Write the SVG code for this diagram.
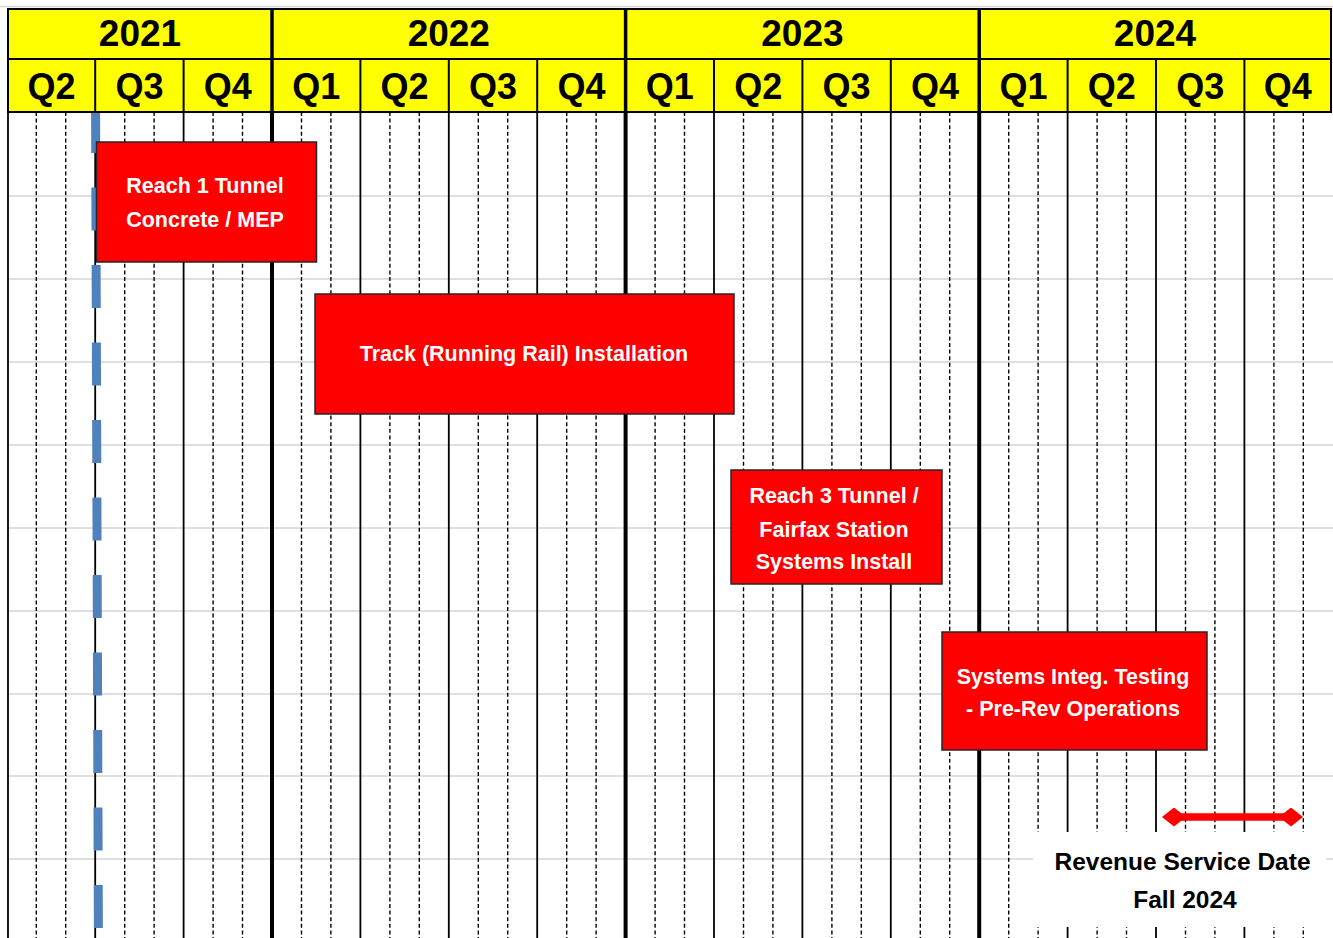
<svg xmlns="http://www.w3.org/2000/svg" width="1333" height="938" viewBox="0 0 1333 938">
<style>
.month{stroke:#000;stroke-width:1.4;stroke-dasharray:4 2.6;fill:none}
.qline{stroke:#000;stroke-width:1.8;fill:none}
.yline{stroke:#000;stroke-width:4;fill:none}
.hline{stroke:#d4d4d4;stroke-width:1.5;fill:none}
.hdr{font-family:"Liberation Sans",Arial,sans-serif;font-weight:bold;fill:#000;text-anchor:middle}
.yr{font-size:37px}
.qt{font-size:36px}
.box{fill:#ff0000;stroke:#262626;stroke-width:1.5}
.btxt{font-family:"Liberation Sans",Arial,sans-serif;font-weight:bold;font-size:21.5px;fill:#fff;text-anchor:middle}
.rtxt{font-family:"Liberation Sans",Arial,sans-serif;font-weight:bold;font-size:24.5px;fill:#000;text-anchor:middle}
</style>
<defs>
<marker id="diam" viewBox="0 0 24 19" refX="16" refY="9.5" markerWidth="24" markerHeight="19" markerUnits="userSpaceOnUse" orient="auto-start-reverse">
<path d="M0,9.5 L12,0 L24,9.5 L12,19 Z" fill="#ff0000"/>
</marker>
</defs>
<rect x="0" y="0" width="1333" height="938" fill="#fff"/>
<line x1="0" y1="6.5" x2="1333" y2="6.5" class="hline"/>
<g id="grid">
<g id="hlines">
<line x1="8" y1="196" x2="1333" y2="196" class="hline"/>
<line x1="8" y1="279" x2="1333" y2="279" class="hline"/>
<line x1="8" y1="362" x2="1333" y2="362" class="hline"/>
<line x1="8" y1="445" x2="1333" y2="445" class="hline"/>
<line x1="8" y1="528" x2="1333" y2="528" class="hline"/>
<line x1="8" y1="611" x2="1333" y2="611" class="hline"/>
<line x1="8" y1="694" x2="1333" y2="694" class="hline"/>
<line x1="8" y1="776" x2="1333" y2="776" class="hline"/>
<line x1="8" y1="859" x2="1333" y2="859" class="hline"/>
</g>
<g id="months">
<line x1="36.3" y1="112" x2="36.3" y2="938" class="month"/>
<line x1="65.7" y1="112" x2="65.7" y2="938" class="month"/>
<line x1="124.7" y1="112" x2="124.7" y2="938" class="month"/>
<line x1="154.1" y1="112" x2="154.1" y2="938" class="month"/>
<line x1="213.1" y1="112" x2="213.1" y2="938" class="month"/>
<line x1="242.5" y1="112" x2="242.5" y2="938" class="month"/>
<line x1="301.5" y1="112" x2="301.5" y2="938" class="month"/>
<line x1="330.9" y1="112" x2="330.9" y2="938" class="month"/>
<line x1="389.9" y1="112" x2="389.9" y2="938" class="month"/>
<line x1="419.3" y1="112" x2="419.3" y2="938" class="month"/>
<line x1="478.3" y1="112" x2="478.3" y2="938" class="month"/>
<line x1="507.7" y1="112" x2="507.7" y2="938" class="month"/>
<line x1="566.7" y1="112" x2="566.7" y2="938" class="month"/>
<line x1="596.1" y1="112" x2="596.1" y2="938" class="month"/>
<line x1="655.1" y1="112" x2="655.1" y2="938" class="month"/>
<line x1="684.5" y1="112" x2="684.5" y2="938" class="month"/>
<line x1="743.5" y1="112" x2="743.5" y2="938" class="month"/>
<line x1="772.9" y1="112" x2="772.9" y2="938" class="month"/>
<line x1="831.9" y1="112" x2="831.9" y2="938" class="month"/>
<line x1="861.3" y1="112" x2="861.3" y2="938" class="month"/>
<line x1="920.3" y1="112" x2="920.3" y2="938" class="month"/>
<line x1="949.7" y1="112" x2="949.7" y2="938" class="month"/>
<line x1="1008.7" y1="112" x2="1008.7" y2="938" class="month"/>
<line x1="1038.1" y1="112" x2="1038.1" y2="938" class="month"/>
<line x1="1097.1" y1="112" x2="1097.1" y2="938" class="month"/>
<line x1="1126.5" y1="112" x2="1126.5" y2="938" class="month"/>
<line x1="1185.5" y1="112" x2="1185.5" y2="938" class="month"/>
<line x1="1214.9" y1="112" x2="1214.9" y2="938" class="month"/>
<line x1="1273.9" y1="112" x2="1273.9" y2="938" class="month"/>
<line x1="1303.3" y1="112" x2="1303.3" y2="938" class="month"/>
</g>
<g id="quarters">
<line x1="8" y1="112" x2="8" y2="938" class="qline"/>
<line x1="95.2" y1="112" x2="95.2" y2="938" class="qline"/>
<line x1="183.6" y1="112" x2="183.6" y2="938" class="qline"/>
<line x1="360.4" y1="112" x2="360.4" y2="938" class="qline"/>
<line x1="448.8" y1="112" x2="448.8" y2="938" class="qline"/>
<line x1="537.2" y1="112" x2="537.2" y2="938" class="qline"/>
<line x1="714" y1="112" x2="714" y2="938" class="qline"/>
<line x1="802.4" y1="112" x2="802.4" y2="938" class="qline"/>
<line x1="890.8" y1="112" x2="890.8" y2="938" class="qline"/>
<line x1="1067.6" y1="112" x2="1067.6" y2="938" class="qline"/>
<line x1="1156" y1="112" x2="1156" y2="938" class="qline"/>
<line x1="1244.4" y1="112" x2="1244.4" y2="938" class="qline"/>
</g>
<g id="years">
<line x1="272" y1="112" x2="272" y2="938" class="yline"/>
<line x1="625.6" y1="112" x2="625.6" y2="938" class="yline"/>
<line x1="979.2" y1="112" x2="979.2" y2="938" class="yline"/>
</g>
</g>
<g id="header">
<rect x="8" y="9" width="1323" height="103" fill="#ffff00" stroke="#000" stroke-width="2"/>
<line x1="8" y1="59" x2="1331" y2="59" stroke="#000" stroke-width="2"/>
<g stroke="#000" stroke-width="2">
<line x1="95.2" y1="59" x2="95.2" y2="112"/>
<line x1="183.6" y1="59" x2="183.6" y2="112"/>
<line x1="360.4" y1="59" x2="360.4" y2="112"/>
<line x1="448.8" y1="59" x2="448.8" y2="112"/>
<line x1="537.2" y1="59" x2="537.2" y2="112"/>
<line x1="714" y1="59" x2="714" y2="112"/>
<line x1="802.4" y1="59" x2="802.4" y2="112"/>
<line x1="890.8" y1="59" x2="890.8" y2="112"/>
<line x1="1067.6" y1="59" x2="1067.6" y2="112"/>
<line x1="1156" y1="59" x2="1156" y2="112"/>
<line x1="1244.4" y1="59" x2="1244.4" y2="112"/>
</g>
<g stroke="#000" stroke-width="3.5">
<line x1="272" y1="9" x2="272" y2="112"/>
<line x1="625.6" y1="9" x2="625.6" y2="112"/>
<line x1="979.2" y1="9" x2="979.2" y2="112"/>
</g>
<g class="hdr yr">
<text x="140" y="46">2021</text>
<text x="448.8" y="46">2022</text>
<text x="802.4" y="46">2023</text>
<text x="1155" y="46">2024</text>
</g>
<g class="hdr qt">
<text x="51.6" y="99">Q2</text>
<text x="139.4" y="99">Q3</text>
<text x="227.8" y="99">Q4</text>
<text x="316.2" y="99">Q1</text>
<text x="404.6" y="99">Q2</text>
<text x="493" y="99">Q3</text>
<text x="581.4" y="99">Q4</text>
<text x="669.8" y="99">Q1</text>
<text x="758.2" y="99">Q2</text>
<text x="846.6" y="99">Q3</text>
<text x="935" y="99">Q4</text>
<text x="1023.4" y="99">Q1</text>
<text x="1111.8" y="99">Q2</text>
<text x="1200.2" y="99">Q3</text>
<text x="1287.7" y="99">Q4</text>
</g>
</g>
<g id="connectors">
<line id="today-line" x1="95.6" y1="113" x2="98.4" y2="938" stroke="#4f81bd" stroke-width="9" stroke-dasharray="43 34.5" stroke-dashoffset="3"/>
<line id="revenue-range" x1="1170" y1="817" x2="1295" y2="817" stroke="#ff0000" stroke-width="7.5" marker-start="url(#diam)" marker-end="url(#diam)"/>
</g>
<g id="reach1">
<rect x="96.5" y="142" width="220" height="120" class="box"/>
<text class="btxt" x="205" y="193">Reach 1 Tunnel</text>
<text class="btxt" x="205" y="226.5">Concrete / MEP</text>
</g>
<g id="track">
<rect x="315" y="294" width="419" height="120" class="box"/>
<text class="btxt" x="524" y="361">Track (Running Rail) Installation</text>
</g>
<g id="reach3">
<rect x="731" y="470" width="211" height="114" class="box"/>
<text class="btxt" x="834" y="503">Reach 3 Tunnel /</text>
<text class="btxt" x="834" y="536.5">Fairfax Station</text>
<text class="btxt" x="834" y="568.5">Systems Install</text>
</g>
<g id="testing">
<rect x="942" y="632" width="265" height="118" class="box"/>
<text class="btxt" x="1073" y="684">Systems Integ. Testing</text>
<text class="btxt" x="1073" y="716">- Pre-Rev Operations</text>
</g>
<g id="revenue">
<rect x="1033" y="832" width="293" height="95" fill="#fff"/>
<text class="rtxt" x="1182.5" y="870">Revenue Service Date</text>
<text class="rtxt" x="1185" y="908">Fall 2024</text>
</g>
</svg>
